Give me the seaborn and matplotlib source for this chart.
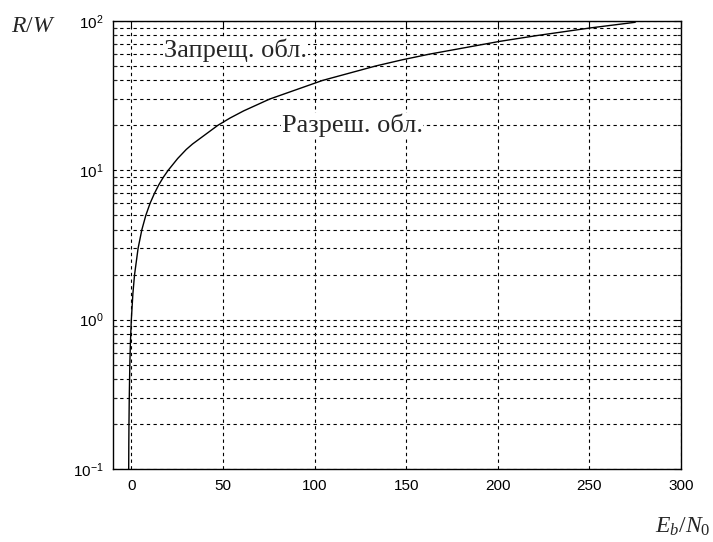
import matplotlib
matplotlib.use("Agg")
import matplotlib.pyplot as plt
import matplotlib.ticker as mticker
import numpy as np
import pandas as pd
import seaborn as sns

# Spectral efficiency R/W (bit/s/Hz) and the corresponding Eb/N0 on the boundary curve
rate_per_bw = [0.1, 0.15, 0.2, 0.3, 0.5, 0.7, 1.0, 1.5, 2.0, 3.0, 4.0, 5.0, 6.0,
               7.0, 8.0, 9.0, 10.0, 12.0, 13.8, 15.0, 20.0, 22.4, 25.0, 30.0,
               40.0, 50.0, 55.0, 60.0, 73.0, 80.0, 90.0, 98.0]
eb_n0 = [-1.44, -1.37, -1.29, -1.13, -0.82, -0.50, 0.0, 0.86, 1.76, 3.68, 5.74,
         7.92, 10.2, 12.6, 15.0, 17.5, 20.1, 25.3, 30.0, 33.4, 47.2, 53.9, 61.3,
         75.5, 104.4, 133.5, 148.0, 162.8, 201.0, 221.8, 251.0, 275.0]

x_ticks = [0, 50, 100, 150, 200, 250, 300]
region_forbidden = "Запрещ. обл."
region_allowed = "Разреш. обл."

sns.set_style("white")
plt.rcParams["font.family"] = ["Liberation Sans", "DejaVu Sans"]
plt.rcParams["mathtext.fontset"] = "custom"
plt.rcParams["mathtext.rm"] = "Liberation Serif"
plt.rcParams["mathtext.it"] = "Liberation Serif:italic"

df = pd.DataFrame({"ebn0": eb_n0, "rw": rate_per_bw})

fig = plt.figure(figsize=(7.13, 5.42), dpi=100)
ax = fig.add_axes([0.1585, 0.1347, 0.9551 - 0.1585, 0.9613 - 0.1347])

sns.lineplot(data=df, x="ebn0", y="rw", sort=False, estimator=None,
             color="black", linewidth=1.0, ax=ax)

ax.set_yscale("log")
ax.set_xlim(-10, 300)
ax.set_ylim(0.1, 100)
ax.set_xticks(x_ticks)
ax.yaxis.set_major_locator(mticker.LogLocator(base=10, numticks=10))
ax.yaxis.set_minor_locator(mticker.LogLocator(base=10, subs=np.arange(2, 10), numticks=20))
ax.yaxis.set_minor_formatter(mticker.NullFormatter())

ax.set_xlabel("")
ax.set_ylabel("")

grid_kw = dict(color="black", linestyle=(0, (3, 3)), linewidth=0.8)
ax.grid(True, axis="x", which="major", **grid_kw)
ax.grid(True, axis="y", which="both", **grid_kw)
ax.set_axisbelow(False)

for s in ax.spines.values():
    s.set_color("black")
    s.set_linewidth(1.0)

ax.tick_params(axis="both", which="major", direction="in", length=5, width=0.8,
               top=True, right=True, labelsize=11, colors="black", pad=7)
ax.tick_params(axis="y", which="minor", direction="in", length=3, width=0.8,
               left=True, right=True)

ax.text(57, 64, region_forbidden, family="Liberation Serif", fontsize=19,
        ha="center", va="center", zorder=5,
        bbox=dict(facecolor="white", edgecolor="none", pad=0.5))
ax.text(120.5, 20, region_allowed, family="Liberation Serif", fontsize=19,
        ha="center", va="center", zorder=5,
        bbox=dict(facecolor="white", edgecolor="none", pad=0.5))

fig.text(0.046, 0.952, r"$R/W$", fontsize=17, ha="center", va="center")
fig.text(0.958, 0.028, r"$E_b/N_0$", fontsize=17, ha="center", va="center")

fig.savefig("out.png", dpi=100, facecolor="white")
